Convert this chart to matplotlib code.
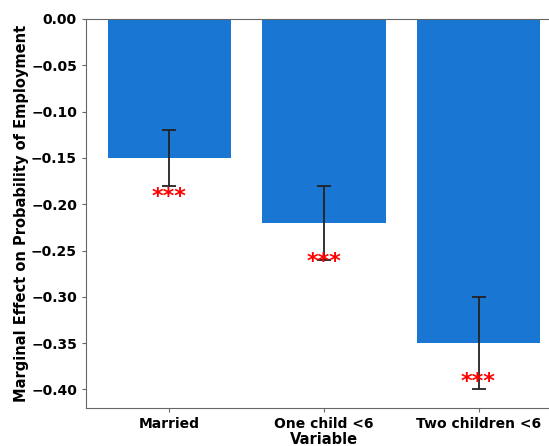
import matplotlib
matplotlib.use('Agg')
import matplotlib.pyplot as plt
import numpy as np

# 변수별 한계효과 및 표준오차
categories = ['Married', 'One child <6', 'Two children <6']
effects = [-0.15, -0.22, -0.35]
errors = [0.03, 0.04, 0.05]
stars = ['***', '***', '***']

fig = plt.figure(figsize=(5.49, 4.46), dpi=100)
ax = fig.add_axes([0.1566, 0.0852, 0.867, 0.8722])

x = np.arange(len(categories))
ax.bar(x, effects, width=0.8, color='#1976D2')
ax.errorbar(x, effects, yerr=errors, fmt='none', ecolor='#222222',
            elinewidth=1.3, capsize=5, capthick=1.3)

# 유의성 별표
for xi, val, s in zip(x, effects, stars):
    ax.text(xi, val - 0.042, s, color='red', fontsize=16, fontweight='bold',
            ha='center', va='center')

ax.set_xlim(-0.54, 2.54)
ax.set_ylim(-0.42, 0.0)
ax.set_yticks(np.round(np.arange(-0.40, 0.001, 0.05), 2))
ax.set_xticks(x)
ax.set_xticklabels(categories)

for lab in ax.get_xticklabels() + ax.get_yticklabels():
    lab.set_fontweight('bold')
    lab.set_fontsize(10)

ax.set_xlabel('Variable', fontsize=10.5, fontweight='bold', labelpad=1)
ax.set_ylabel('Marginal Effect on Probability of Employment',
              fontsize=10.5, fontweight='bold', labelpad=1.5)

for side in ['left', 'bottom', 'top', 'right']:
    ax.spines[side].set_color('#666666')
ax.tick_params(colors='#666666', labelcolor='black', length=3)

fig.savefig('out.png', dpi=100)
